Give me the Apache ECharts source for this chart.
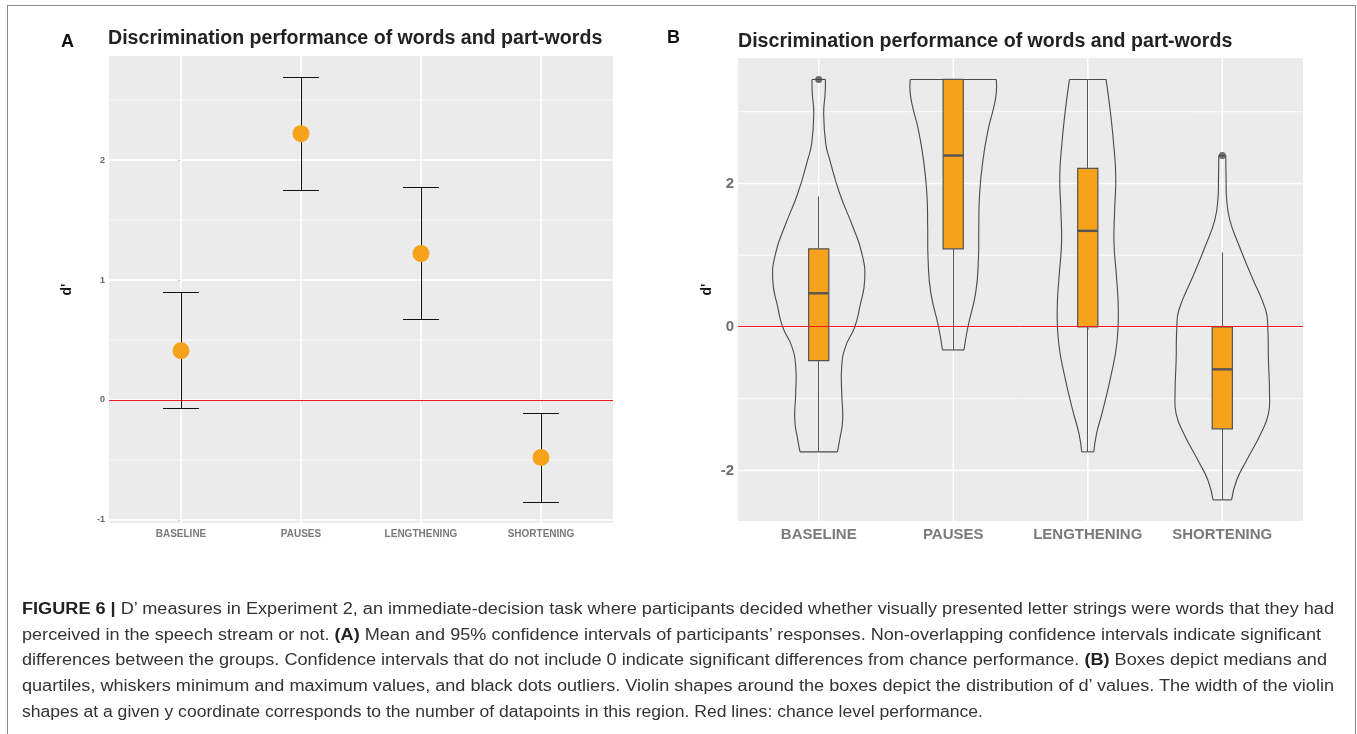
<!DOCTYPE html>
<html>
<head>
<meta charset="utf-8">
<script src="https://cdn.jsdelivr.net/npm/echarts@6/dist/echarts.min.js"></script>
<style>
  html, body { margin:0; padding:0; background:#fff; }
  #wrap { position:relative; width:1357px; height:734px; overflow:hidden; }
  #chart { position:absolute; left:0; top:0; width:1357px; height:734px; }
  #frame { position:absolute; left:7px; top:5px; width:1349px; height:800px; border:1px solid #8a8a8a; box-sizing:border-box; pointer-events:none; }
  .cap { position:absolute; left:22px; white-space:nowrap; font-family:"Liberation Sans", Arial, sans-serif; font-size:16px; line-height:20px; color:#333; transform-origin:0 50%; }
  .cap b { color:#222; }
</style>
</head>
<body>
<div id="wrap">
  <div id="chart"></div>
  <div id="frame"></div>
  <div class="cap" data-end="1334" style="top:599px"><b>FIGURE 6 |</b> D’ measures in Experiment 2, an immediate-decision task where participants decided whether visually presented letter strings were words that they had</div>
  <div class="cap" data-end="1321" style="top:625px">perceived in the speech stream or not. <b>(A)</b> Mean and 95% confidence intervals of participants’ responses. Non-overlapping confidence intervals indicate significant</div>
  <div class="cap" data-end="1327" style="top:650px">differences between the groups. Confidence intervals that do not include 0 indicate significant differences from chance performance. <b>(B)</b> Boxes depict medians and</div>
  <div class="cap" data-end="1334" style="top:676px">quartiles, whiskers minimum and maximum values, and black dots outliers. Violin shapes around the boxes depict the distribution of d’ values. The width of the violin</div>
  <div class="cap" data-end="983" style="top:702px">shapes at a given y coordinate corresponds to the number of datapoints in this region. Red lines: chance level performance.</div>
</div>
<script>
// ---------- data ----------
const categories = ['BASELINE', 'PAUSES', 'LENGTHENING', 'SHORTENING'];

// Panel A: mean d' and 95% CI
const meanA   = [0.41, 2.22, 1.22, -0.48];
const ciLowA  = [-0.07, 1.75, 0.67, -0.85];
const ciHighA = [0.90, 2.69, 1.77, -0.11];
const yTicksA = [-1, 0, 1, 2];

// Panel B: box statistics
const boxMin    = [-1.74, -0.32, -1.74, -2.41];
const boxQ1     = [-0.47, 1.09, 0.00, -1.42];
const boxMedian = [0.47, 2.39, 1.34, -0.59];
const boxQ3     = [1.09, 3.45, 2.21, 0.00];
const boxMax    = [1.82, 3.45, 3.45, 1.04];
const outlierCat = [0, 3];
const outlierVal = [3.45, 2.39];
const yTicksB = [-2, 0, 2];

// Panel B: violin profiles [d' value, half-width in category units]
const violinBaseline = [[3.45,0.050],[3.26,0.048],[2.98,0.037],[2.56,0.052],[2.33,0.082],[1.86,0.156],[1.40,0.253],[1.03,0.320],[0.66,0.342],[0.28,0.305],[0.00,0.268],[-0.27,0.200],[-0.55,0.171],[-0.92,0.171],[-1.30,0.178],[-1.57,0.156],[-1.74,0.139]];
const violinPauses = [[3.45,0.320],[3.26,0.320],[3.03,0.297],[2.79,0.264],[2.33,0.221],[1.86,0.196],[1.40,0.190],[0.94,0.187],[0.48,0.167],[0.00,0.109],[-0.32,0.080]];
const violinLengthening = [[3.45,0.136],[3.03,0.166],[2.56,0.192],[2.10,0.208],[1.63,0.200],[1.17,0.195],[0.71,0.213],[0.24,0.227],[-0.23,0.216],[-0.70,0.170],[-1.16,0.112],[-1.49,0.065],[-1.74,0.045]];
const violinShortening = [[2.39,0.026],[2.10,0.028],[1.77,0.033],[1.49,0.056],[1.17,0.117],[0.71,0.217],[0.24,0.322],[0.00,0.338],[-0.46,0.343],[-0.93,0.351],[-1.21,0.343],[-1.49,0.285],[-1.86,0.180],[-2.14,0.106],[-2.41,0.069]];
const violins = [violinBaseline, violinPauses, violinLengthening, violinShortening];

// ---------- styling ----------
const ORANGE = '#F7A21B';
const PANEL_BG = '#EBEBEB';
const OUTLINE = '#555555';
const catIdx = categories.map((c, i) => i);
const px = v => Math.round(v - 0.5) + 0.5;

function gridValues(ticks, lo, hi) {
  const step = ticks[1] - ticks[0];
  const out = [];
  ticks.forEach(t => out.push([t, 0]));
  for (let i = -1; i < ticks.length; i++) {
    const m = ticks[0] + step * (i + 0.5);
    if (m > lo && m < hi) out.push([m, 1]);
  }
  catIdx.forEach(c => out.push([c, 2]));
  return out;
}

function gridSeries(xi, ticks, lo, hi) {
  return {
    type: 'custom', xAxisIndex: xi, yAxisIndex: xi, z: 1, silent: true,
    data: gridValues(ticks, lo, hi),
    renderItem: function (params, api) {
      const cs = params.coordSys;
      const v = api.value(0), kind = api.value(1);
      if (kind === 2) {
        const x = api.coord([v, 0])[0];
        return { type: 'line', shape: { x1: x, y1: cs.y, x2: x, y2: cs.y + cs.height }, style: { stroke: '#fff', lineWidth: 1.5 } };
      }
      const y = api.coord([0, v])[1];
      return { type: 'line', shape: { x1: cs.x, y1: y, x2: cs.x + cs.width, y2: y }, style: { stroke: '#fff', lineWidth: kind === 0 ? 1.5 : 0.8 } };
    }
  };
}

function zeroLine(xi) {
  return {
    type: 'custom', xAxisIndex: xi, yAxisIndex: xi, z: 6, silent: true,
    data: [[0, 0]],
    renderItem: function (params, api) {
      const cs = params.coordSys;
      const y = px(api.coord([0, api.value(1)])[1]);
      return { type: 'line', shape: { x1: cs.x, y1: y, x2: cs.x + cs.width, y2: y }, style: { stroke: '#EE1C1C', lineWidth: 1 } };
    }
  };
}

function xAxisDef(gi, fs, color, margin) {
  return {
    gridIndex: gi, type: 'value', min: -0.6, max: 3.6,
    axisLine: { show: false }, splitLine: { show: false },
    axisTick: { show: true, customValues: catIdx, length: 3, lineStyle: { color: '#444', width: 1 } },
    axisLabel: { customValues: catIdx, formatter: v => categories[Math.round(v)], fontFamily: 'Liberation Sans', fontWeight: 'bold', fontSize: fs, color: color, margin: margin }
  };
}
function yAxisDef(gi, min, max, ticks, fs, color, nameGap, nameSize) {
  return {
    gridIndex: gi, type: 'value', min: min, max: max,
    name: "d'", nameLocation: 'middle', nameRotate: 90, nameGap: nameGap,
    nameTextStyle: { fontFamily: 'Liberation Sans', fontWeight: 'bold', fontSize: nameSize, color: '#111' },
    axisLine: { show: false }, splitLine: { show: false },
    axisTick: { show: true, customValues: ticks, length: 3, lineStyle: { color: '#444', width: 1 } },
    axisLabel: { customValues: ticks, fontFamily: 'Liberation Sans', fontWeight: 'bold', fontSize: fs, color: color, margin: 4 }
  };
}

const TITLE = 'Discrimination performance of words and part-words';
const option = {
  animation: false,
  title: [
    { text: 'A', left: 61, top: 33, padding: 0, textStyle: { fontFamily: 'Liberation Sans', fontWeight: 'bold', fontSize: 18, color: '#111' } },
    { text: TITLE, left: 108, top: 29, padding: 0, textStyle: { fontFamily: 'Liberation Sans', fontWeight: 'bold', fontSize: 19.6, color: '#222' } },
    { text: 'B', left: 667, top: 29, padding: 0, textStyle: { fontFamily: 'Liberation Sans', fontWeight: 'bold', fontSize: 18, color: '#111' } },
    { text: TITLE, left: 738, top: 32, padding: 0, textStyle: { fontFamily: 'Liberation Sans', fontWeight: 'bold', fontSize: 19.6, color: '#222' } }
  ],
  grid: [
    { left: 109, top: 56, width: 504, height: 467, show: true, backgroundColor: PANEL_BG, borderWidth: 0, containLabel: false },
    { left: 738, top: 58, width: 565, height: 463, show: true, backgroundColor: PANEL_BG, borderWidth: 0, containLabel: false }
  ],
  xAxis: [ xAxisDef(0, 10, '#7a7a7a', 6), xAxisDef(1, 15, '#7a7a7a', 6) ],
  yAxis: [ yAxisDef(0, -1.025, 2.867, yTicksA, 9, '#666', 35, 14), yAxisDef(1, -2.704, 3.749, yTicksB, 15, '#6e6e6e', 24, 14) ],
  series: [
    gridSeries(0, yTicksA, -1.025, 2.867),
    gridSeries(1, yTicksB, -2.704, 3.749),
    zeroLine(0),
    zeroLine(1),
    // Panel A error bars
    {
      type: 'custom', xAxisIndex: 0, yAxisIndex: 0, z: 7, silent: true,
      data: catIdx.map(i => [i, ciLowA[i], ciHighA[i]]),
      renderItem: function (params, api) {
        const x = api.value(0);
        const xc = px(api.coord([x, 0])[0]);
        const yLo = px(api.coord([x, api.value(1)])[1]);
        const yHi = px(api.coord([x, api.value(2)])[1]);
        const xl = api.coord([x - 0.15, 0])[0], xr = api.coord([x + 0.15, 0])[0];
        const st = { stroke: '#111', lineWidth: 1 };
        return { type: 'group', children: [
          { type: 'line', shape: { x1: xc, y1: yLo, x2: xc, y2: yHi }, style: st },
          { type: 'line', shape: { x1: xl, y1: yLo, x2: xr, y2: yLo }, style: st },
          { type: 'line', shape: { x1: xl, y1: yHi, x2: xr, y2: yHi }, style: st }
        ] };
      }
    },
    {
      type: 'scatter', xAxisIndex: 0, yAxisIndex: 0, z: 8, silent: true,
      symbolSize: 17, itemStyle: { color: ORANGE, opacity: 1 },
      data: catIdx.map(i => [i, meanA[i]])
    },
    // Panel B violins
    {
      type: 'custom', xAxisIndex: 1, yAxisIndex: 1, z: 3, silent: true,
      data: catIdx.map(i => [i, 0]),
      renderItem: function (params, api) {
        const c = api.value(0);
        const prof = violins[c];
        const right = prof.map(p => api.coord([c + p[1], p[0]]));
        const left = prof.map(p => api.coord([c - p[1], p[0]]));
        const st = { stroke: '#4a4a4a', lineWidth: 1.1, fill: null };
        const n = prof.length - 1;
        return { type: 'group', children: [
          { type: 'polyline', shape: { points: right, smooth: 0.5 }, style: st },
          { type: 'polyline', shape: { points: left, smooth: 0.5 }, style: st },
          { type: 'line', shape: { x1: left[0][0], y1: left[0][1], x2: right[0][0], y2: right[0][1] }, style: st },
          { type: 'line', shape: { x1: left[n][0], y1: left[n][1], x2: right[n][0], y2: right[n][1] }, style: st }
        ] };
      }
    },
    // Panel B boxes
    {
      type: 'custom', xAxisIndex: 1, yAxisIndex: 1, z: 4, silent: true,
      data: catIdx.map(i => [i, boxMin[i], boxQ1[i], boxMedian[i], boxQ3[i], boxMax[i]]),
      renderItem: function (params, api) {
        const c = api.value(0);
        const hw = 0.075;
        const xc = px(api.coord([c, 0])[0]);
        const yMin = api.coord([c, api.value(1)])[1];
        const yQ1 = api.coord([c, api.value(2)])[1];
        const yMed = api.coord([c, api.value(3)])[1];
        const yQ3 = api.coord([c, api.value(4)])[1];
        const yMax = api.coord([c, api.value(5)])[1];
        const xl = api.coord([c - hw, 0])[0], xr = api.coord([c + hw, 0])[0];
        const st = { stroke: OUTLINE, lineWidth: 1 };
        return { type: 'group', children: [
          { type: 'line', shape: { x1: xc, y1: yMin, x2: xc, y2: yQ1 }, style: st },
          { type: 'line', shape: { x1: xc, y1: yQ3, x2: xc, y2: yMax }, style: st },
          { type: 'rect', shape: { x: xl, y: yQ3, width: xr - xl, height: yQ1 - yQ3 }, style: { fill: ORANGE, stroke: OUTLINE, lineWidth: 1.2 } },
          { type: 'line', shape: { x1: xl, y1: yMed, x2: xr, y2: yMed }, style: { stroke: OUTLINE, lineWidth: 2.4 } }
        ] };
      }
    },
    {
      type: 'scatter', xAxisIndex: 1, yAxisIndex: 1, z: 5, silent: true,
      symbolSize: 7, itemStyle: { color: '#4a4a4a' },
      data: outlierCat.map((c, k) => [c, outlierVal[k]])
    }
  ]
};

const chart = echarts.init(document.getElementById('chart'), null, { renderer: 'canvas' });
chart.setOption(option);

// fit caption lines to the reference line lengths
document.querySelectorAll('.cap').forEach(el => {
  const w = el.getBoundingClientRect().width;
  const target = parseFloat(el.dataset.end) - 22;
  el.style.transform = 'scaleX(' + (target / w) + ')';
});
</script>
</body>
</html>
